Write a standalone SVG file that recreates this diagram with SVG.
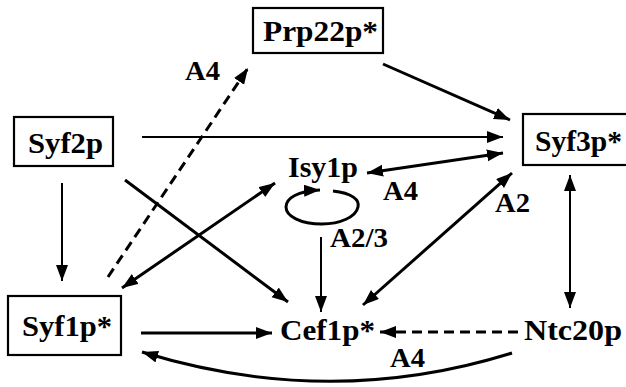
<svg xmlns="http://www.w3.org/2000/svg" width="626" height="387" viewBox="0 0 626 387">
<style>
text{font-family:'Liberation Serif','Times New Roman',Times,serif;font-weight:700;font-size:29px;fill:#000}
.lbl{font-size:27px}
.box{fill:#fff;stroke:#000;stroke-width:2.2}
.c{fill:none;stroke:#000;stroke-width:3}
.t{fill:none;stroke:#000;stroke-width:2}
.d{stroke-dasharray:10 6}
</style>
<defs>
<marker id="ah" markerUnits="userSpaceOnUse" markerWidth="18" markerHeight="14" refX="16" refY="6" orient="auto-start-reverse" viewBox="0 0 18 14">
<path d="M0,0 L16,6 L0,12 z" fill="#000"/>
</marker>
</defs>
<rect width="626" height="387" fill="#fff"/>
<g id="connectors">
<line class="t" x1="142" y1="137" x2="503" y2="137" marker-end="url(#ah)"/>
<line class="c" x1="383" y1="64" x2="510" y2="120" marker-end="url(#ah)"/>
<line class="c" x1="367" y1="173" x2="503" y2="153" marker-start="url(#ah)" marker-end="url(#ah)"/>
<line class="c" x1="363" y1="305" x2="512" y2="173" marker-start="url(#ah)" marker-end="url(#ah)"/>
<line class="t" x1="570" y1="175" x2="570" y2="308" marker-start="url(#ah)" marker-end="url(#ah)"/>
<line class="t" x1="62" y1="183" x2="62" y2="281" marker-end="url(#ah)"/>
<line class="c" x1="125" y1="180" x2="288" y2="302" marker-end="url(#ah)"/>
<line class="c" x1="122" y1="288" x2="275" y2="183" marker-start="url(#ah)" marker-end="url(#ah)"/>
<line class="c d" x1="108" y1="277" x2="248" y2="68" marker-end="url(#ah)"/>
<line class="c" x1="141" y1="333" x2="272" y2="333" marker-end="url(#ah)"/>
<line class="t" x1="321" y1="237" x2="321" y2="312" marker-end="url(#ah)"/>
<line class="c d" x1="518" y1="332" x2="380" y2="332" marker-end="url(#ah)"/>
<path class="c" d="M512,353 Q330,410 142,352" marker-end="url(#ah)"/>
<path class="c" d="M333,191 C352,193 360,200 358,207 C356,217 340,224 322,224 C300,224 286,216 286,207 C286,198 298,191 320,190" marker-end="url(#ah)"/>
</g>
<g id="Prp22p">
<rect class="box" x="253" y="8" width="130" height="45"/>
<text x="263" y="41" textLength="115" lengthAdjust="spacingAndGlyphs">Prp22p*</text>
</g>
<g id="Syf2p">
<rect class="box" x="14" y="117" width="99" height="49"/>
<text x="28" y="153" textLength="75" lengthAdjust="spacingAndGlyphs">Syf2p</text>
</g>
<g id="Syf3p">
<rect class="box" x="523" y="114" width="110" height="51"/>
<text x="535" y="151" textLength="87" lengthAdjust="spacingAndGlyphs">Syf3p*</text>
</g>
<g id="Isy1p">
<text x="288" y="177" textLength="70" lengthAdjust="spacingAndGlyphs">Isy1p</text>
</g>
<g id="Syf1p">
<rect class="box" x="8" y="296" width="113" height="59"/>
<text x="22" y="336" textLength="90" lengthAdjust="spacingAndGlyphs">Syf1p*</text>
</g>
<g id="Cef1p">
<text x="280" y="340" textLength="95" lengthAdjust="spacingAndGlyphs">Cef1p*</text>
</g>
<g id="Ntc20p">
<text x="524" y="340" textLength="98" lengthAdjust="spacingAndGlyphs">Ntc20p</text>
</g>
<g id="labels">
<text class="lbl" x="185" y="80" textLength="35" lengthAdjust="spacingAndGlyphs">A4</text>
<text class="lbl" x="383" y="200" textLength="35" lengthAdjust="spacingAndGlyphs">A4</text>
<text class="lbl" x="495" y="212" textLength="35" lengthAdjust="spacingAndGlyphs">A2</text>
<text class="lbl" x="330" y="247" textLength="58" lengthAdjust="spacingAndGlyphs">A2/3</text>
<text class="lbl" x="390" y="367" textLength="35" lengthAdjust="spacingAndGlyphs">A4</text>
</g>
</svg>
